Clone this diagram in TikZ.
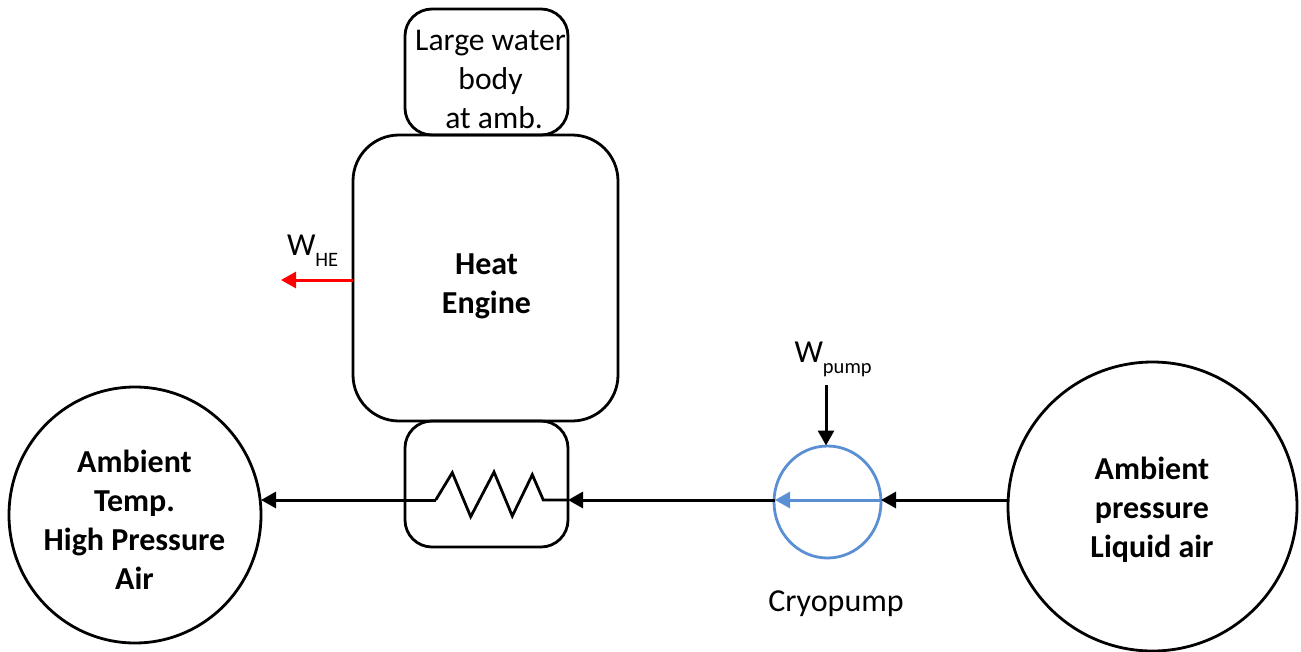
\documentclass[tikz,border=0pt]{standalone}
\usepackage{fontspec}
\setmainfont{Carlito}
\usetikzlibrary{arrows.meta,shapes.geometric,calc}
\definecolor{pumpblue}{HTML}{5B8FD4}
\tikzset{
  shape line/.style={draw=black,line width=2.8pt,inner sep=0pt,outer sep=0pt},
  soft box/.style={shape line,rectangle,rounded corners=#1},
  round vessel/.style={shape line,ellipse},
  flow/.style={line width=3pt,-{Triangle[length=15pt,width=16pt]}},
  lbl/.style={inner sep=0pt,outer sep=0pt,align=center,font=\fontsize{31.6}{39}\selectfont},
  blbl/.style={lbl,font=\fontsize{32}{39}\selectfont\bfseries},
  wlbl/.style={inner sep=0pt,outer sep=0pt,anchor=base west,font=\fontsize{32}{39}\selectfont}
}
\newcommand{\subtxt}[1]{\raisebox{-11pt}{\fontsize{20.5}{24}\selectfont #1}}
\begin{document}
\begin{tikzpicture}[x=1pt,y=-1pt]
\useasboundingbox (0,0) rectangle (1301,651);
\node[soft box=27pt,minimum width=163pt,minimum height=126pt] (water) at (486.5,72) {};
\node[soft box=46pt,minimum width=265pt,minimum height=286pt] (engine) at (485.5,278) {};
\node[soft box=27pt,minimum width=163pt,minimum height=126pt] (hx) at (486.5,484) {};
\node[round vessel,minimum width=252pt,minimum height=256pt] (left) at (135,515) {};
\node[round vessel,minimum width=289pt,minimum height=289pt] (right) at (1152.5,506.5) {};
\node[round vessel,draw=pumpblue,minimum width=107pt,minimum height=112pt] (pump) at (827.5,502) {};
\coordinate (pumpR) at (881,500);
\coordinate (pumpL) at (775,500);
\coordinate (hxR) at (568,500);
\coordinate (c0) at (435.7,500);
\coordinate (wout) at (281,280);
\coordinate (wsrc) at (353,280);
\coordinate (pin) at (826,385);
\coordinate (ptop) at (826,445.5);
% labels
\node[lbl] (twater) at (490.5,79) {Large water\\body\\\hspace*{0.23em}at amb.};
\node[blbl] (tengine) at (486.5,286) {Heat\\Engine};
\node[blbl] (tleft) at (134.5,520) {Ambient\\Temp.\\High Pressure\\Air};
\node[blbl] (tright) at (1152,510) {Ambient\\pressure\\Liquid air};
\node[lbl,font=\fontsize{32}{39}\selectfont] (tcryo) at (836,604) {Cryopump};
\node[wlbl] (the) at (287,255.5) {W\subtxt{HE}};
\node[wlbl] (tpump) at (794.5,362) {W\subtxt{pump}};
% connectors
\draw[flow] (right.west |- pumpR) -- (pumpR);
\draw[flow] (pumpL) -- (hxR);
\draw[flow] (c0) -- (left.east |- c0);
\draw[line width=2.8pt,line join=miter] (c0) -- (452.3,472.7) -- (470.7,516.7) -- (494,472) -- (512.3,516) -- (532.3,474.7) -- (543.3,500) -- (hxR);
\draw[flow,draw=pumpblue,fill=pumpblue] (pumpR) -- (pumpL);
\draw[flow,draw=red,fill=red] (wsrc) -- (wout);
\draw[flow] (pin) -- (ptop);
\end{tikzpicture}
\end{document}
